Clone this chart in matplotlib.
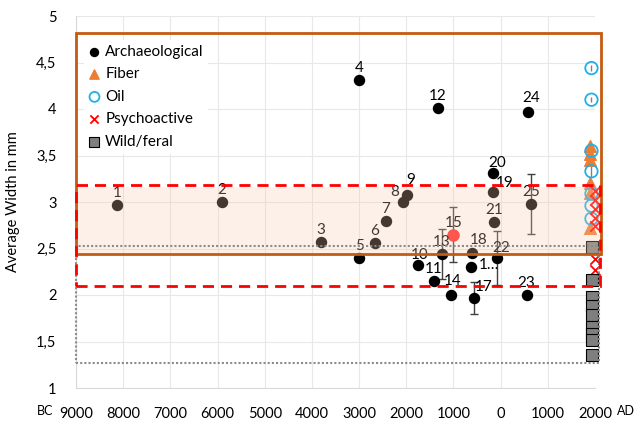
import matplotlib.pyplot as plt
from matplotlib.patches import Rectangle

plt.rcParams['font.family'] = ['Lato', 'DejaVu Sans']

# --- archaeological finds (year: negative = BC) ---
arch_labels = ['1', '2', '3', '4', '5', '6', '7', '8', '9', '10', '11', '12', '13',
               '14', '15', '1\u2026', '17', '18', '19', '20', '21', '22', '23', '24', '25']
arch_year = [-8130, -5910, -3810, -3000, -3000, -2670, -2440, -2070, -1990, -1760, -1410,
             -1330, -1250, -1060, -1000, -620, -570, -600, -160, -160, -140, -70, 550, 580, 650]
arch_width = [2.97, 3.00, 2.57, 4.31, 2.40, 2.56, 2.80, 3.00, 3.07, 2.32, 2.15,
              4.01, 2.44, 2.00, 2.65, 2.30, 1.97, 2.45, 3.11, 3.31, 2.78, 2.40, 2.00, 3.97, 2.98]
arch_err = [0, 0, 0, 0, 0, 0, 0, 0, 0, 0, 0,
            0, 0.27, 0, 0.30, 0, 0.17, 0, 0, 0, 0, 0.29, 0, 0, 0.32]
highlight = '15'

# --- modern reference groups ---
fiber_year = [1900, 1900, 1900, 1900, 1900, 1900]
fiber_width = [3.60, 3.52, 3.45, 3.20, 3.10, 2.72]
oil_year = [1925, 1925, 1925, 1925, 1925, 1925, 1925]
oil_width = [4.44, 4.10, 3.55, 3.33, 3.09, 2.96, 2.82]
oil_err = [0.03, 0.03, 0.08, 0.06, 0, 0, 0]
psy_year = [1990, 1990, 1990, 1990, 1990, 1990, 1990]
psy_width = [3.12, 3.02, 2.92, 2.83, 2.74, 2.39, 2.27]
wild_year = [1945, 1945, 1945, 1945, 1945, 1945, 1945, 1945, 1945]
wild_width = [2.52, 2.16, 1.98, 1.88, 1.78, 1.66, 1.58, 1.52, 1.35]

# --- reference ranges (x0, x1, y0, y1) ---
orange_range = (-9000, 2120, 2.44, 4.82)
red_range = (-9000, 2100, 2.10, 3.18)
wild_range = (-9000, 2080, 1.27, 2.53)
shade_range = (-9000, 2100, 2.44, 3.16)

# label offsets in pixels (default: straight above)
label_offsets = {'8': (-8, 10), '9': (4, 15), '10': (2, 10), '14': (2, 14), '1\u2026': (18, 2),
                 '17': (10, 11), '18': (6, 13), '19': (12, 9), '20': (4, 10), '22': (4, 10),
                 '24': (3, 14)}

fig = plt.figure(figsize=(6.44, 4.21), dpi=100)
ax = fig.add_axes([76 / 644, 33 / 421, 519 / 644, 372 / 421])

ax.set_xlim(-9000, 2000)
ax.set_ylim(1, 5)
xt = list(range(-9000, 2001, 1000))
ax.set_xticks(xt)
ax.set_xticklabels([str(abs(v)) for v in xt], fontsize=10.5)
yt = [1, 1.5, 2, 2.5, 3, 3.5, 4, 4.5, 5]
ax.set_yticks(yt)
ax.set_yticklabels([f'{v:g}'.replace('.', ',') for v in yt], fontsize=10.5)
ax.tick_params(length=0)
ax.tick_params(axis='x', pad=14)
ax.tick_params(axis='y', pad=14)
ax.grid(True, color='#E8E8E8', linewidth=0.8)
ax.set_axisbelow(True)
for s in ['top', 'right']:
    ax.spines[s].set_visible(False)
for s in ['left', 'bottom']:
    ax.spines[s].set_color('#D9D9D9')
    ax.spines[s].set_linewidth(0.8)

ax.set_ylabel('Average Width in mm', fontsize=10.5)
ax.yaxis.set_label_coords(-0.108, 0.5)
fig.text(45 / 644, 1 - 411 / 421, 'BC', fontsize=9, ha='center', va='center')
fig.text(626 / 644, 1 - 411 / 421, 'AD', fontsize=9, ha='center', va='center')

# shaded band and range boxes
x0, x1, y0, y1 = shade_range
ax.add_patch(Rectangle((x0, y0), x1 - x0, y1 - y0, facecolor='#F8CBAD', alpha=0.28,
                       linewidth=0, zorder=5, clip_on=False))
x0, x1, y0, y1 = wild_range
ax.add_patch(Rectangle((x0, y0), x1 - x0, y1 - y0, fill=False, edgecolor='#8C8C8C',
                       linewidth=1.5, linestyle=(0, (1, 1)), zorder=6, clip_on=False))
x0, x1, y0, y1 = orange_range
ax.add_patch(Rectangle((x0, y0), x1 - x0, y1 - y0, fill=False, edgecolor='#C55A11',
                       linewidth=2, zorder=6, clip_on=False))
x0, x1, y0, y1 = red_range
ax.add_patch(Rectangle((x0, y0), x1 - x0, y1 - y0, fill=False, edgecolor='#FF0000',
                       linewidth=2, linestyle=(0, (4, 2.5)), zorder=7, clip_on=False))

# archaeological points
for lab, x, y, e in zip(arch_labels, arch_year, arch_width, arch_err):
    if e:
        ax.errorbar(x, y, yerr=e, fmt='none', ecolor='#404040', elinewidth=1, capsize=3, zorder=2)
    col = '#FF2A2A' if lab == highlight else 'black'
    size = 64 if lab == highlight else 52
    ax.scatter(x, y, s=size, color=col, zorder=3, clip_on=False)
    dx, dy = label_offsets.get(lab, (0, 12))
    ax.annotate(lab, (x, y), xytext=(dx, dy), textcoords='offset pixels',
                ha='center', va='center', fontsize=11, zorder=4)

h_arch = ax.scatter([], [], s=52, color='black', label='Archaeological')

ax.errorbar(oil_year, oil_width, yerr=oil_err, fmt='none', ecolor='#808080', elinewidth=1,
            capsize=0, zorder=2)
h_fiber = ax.scatter(fiber_year, fiber_width, s=70, marker='^', color='#ED7D31',
                     zorder=3, clip_on=False, label='Fiber')
h_oil = ax.scatter(oil_year, oil_width, s=80, marker='o', facecolors='none',
                   edgecolors='#1FB0E8', linewidths=1.3, zorder=3, clip_on=False, label='Oil')
h_psy = ax.scatter(psy_year, psy_width, s=55, marker='x', color='#FF0000', linewidths=1.3,
                   zorder=3, clip_on=False, label='Psychoactive')
h_wild = ax.scatter(wild_year, wild_width, s=70, marker='s', facecolor='#7F7F7F',
                    edgecolor='black', linewidths=0.8, zorder=3, clip_on=False, label='Wild/feral')

leg = ax.legend(handles=[h_arch, h_fiber, h_oil, h_psy, h_wild], loc='upper left',
                bbox_to_anchor=(0.015, 0.935), borderaxespad=0, fontsize=11,
                frameon=True, facecolor='white', edgecolor='none', framealpha=1,
                handlelength=0.8, handletextpad=0.3, labelspacing=0.56,
                markerscale=0.8, borderpad=0.3)
leg.set_zorder(10)

fig.savefig('out.png', dpi=100)
